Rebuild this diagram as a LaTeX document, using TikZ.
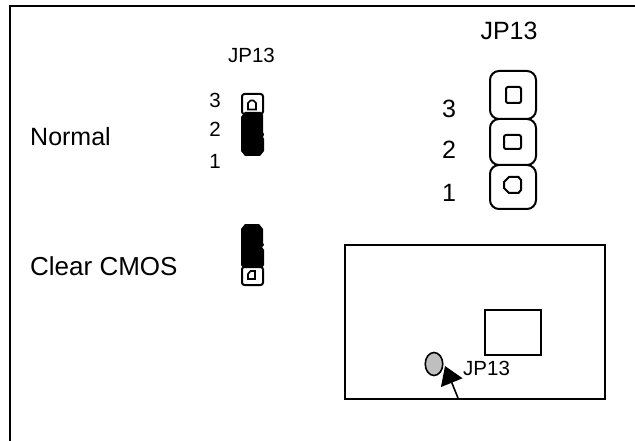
\documentclass[tikz,border=0pt]{standalone}
\usepackage{fontspec}
\setmainfont{Liberation Sans}
\usetikzlibrary{arrows.meta,shapes.geometric}
\tikzset{
  x=1pt,y=-1pt,
  lbl/.style={inner sep=0pt,font=\fontsize{25}{25}\selectfont},
  lblwide/.style={inner sep=0pt,font=\fontsize{26}{26}\selectfont},
  sml/.style={inner sep=0pt,font=\fontsize{20.5}{20.5}\selectfont},
  frameline/.style={line width=2pt,black},
  pinbig/.style={draw=black,line width=2pt,fill=white,rounded corners=9pt},
  pinin/.style={draw=black,line width=2pt,rounded corners=2pt},
  pinsmall/.style={draw=black,line width=2pt,fill=white,rounded corners=2.5pt},
  pinsmallin/.style={draw=black,line width=1.7pt},
  blackjump/.style={fill=black},
}
\begin{document}
\begin{tikzpicture}
\useasboundingbox (0,0) rectangle (635,441);
\fill[white] (0,0) rectangle (635,441);
\draw[frameline] (9.5,441) -- (9.5,6.5) -- (635,6.5);
% labels
\node[lbl,anchor=base west] (normal) at (30,146) {Normal};
\node[lblwide,anchor=base west] (clear) at (30,275) {Clear CMOS};
\node[sml,anchor=base] (jpa) at (251.5,63) {JP13};
\node[lbl,anchor=base] (jpb) at (509,40) {JP13};
\node[sml,anchor=base] (na3) at (215,108) {3};
\node[sml,anchor=base] (na2) at (215,137) {2};
\node[sml,anchor=base] (na1) at (215,169) {1};
\node[lbl,anchor=base] (nb3) at (449,118) {3};
\node[lbl,anchor=base] (nb2) at (449,158.5) {2};
\node[lbl,anchor=base] (nb1) at (449,201) {1};
% small jumper, normal
\draw[pinsmall] (242,94) rectangle (263,114);
\draw[pinsmallin] (248,109.5) -- (248,103) -- (250.5,100.5) -- (253.5,100.5) -- (256,103) -- (256,109.5) -- cycle;
\fill[blackjump] (241,117) -- (245,112) -- (261,112) -- (263,115) -- (263,132) -- (264,134.5) -- (263,137) -- (264,139) -- (264,151) -- (260,156) -- (245,156) -- (241,151) -- cycle;
% small jumper, clear
\fill[blackjump] (241,229) -- (245,224) -- (259,224) -- (263,229) -- (263,243) -- (264,245) -- (262,247) -- (264,250) -- (264,265) -- (262,268) -- (243,268) -- (241,265) -- cycle;
\draw[pinsmall] (242,267) rectangle (263,285);
\draw[pinsmallin] (248,279) -- (248,274) -- (250.5,271) -- (255,271) -- (255,279) -- cycle;
% big jumper
\draw[pinbig] (490,165) rectangle (536,209);
\draw[pinbig] (490,119) rectangle (536,165);
\draw[pinbig] (490,71) rectangle (536,119);
\draw[pinin] (506,87) rectangle (521,103);
\draw[pinin] (504,135) rectangle (521,149);
\draw[line width=2pt] (504,182) -- (509,177) -- (518.5,177) -- (521,180) -- (521,190) -- (518.5,193) -- (509,193) -- (504,188) -- cycle;
% inset board
\node[draw=black,line width=1.6pt,minimum width=260pt,minimum height=154pt,inner sep=0pt] (board) at (475,322) {};
\node[draw=black,line width=1.6pt,minimum width=56pt,minimum height=45pt,inner sep=0pt] (chip) at (513,332.5) {};
\node[draw=black,line width=1.6pt,fill=black!25,ellipse,minimum width=17.5pt,minimum height=23pt,inner sep=0pt] (pin) at (434,364) {};
\node[sml,anchor=base west] (jpc) at (463,375) {JP13};
\coordinate (arrowend) at (458,398);
\coordinate (arrowtip) at (445,366);
\draw[line width=1.6pt,-{Triangle[length=18pt,width=23pt]}] (arrowend) -- (arrowtip);
\end{tikzpicture}
\end{document}
